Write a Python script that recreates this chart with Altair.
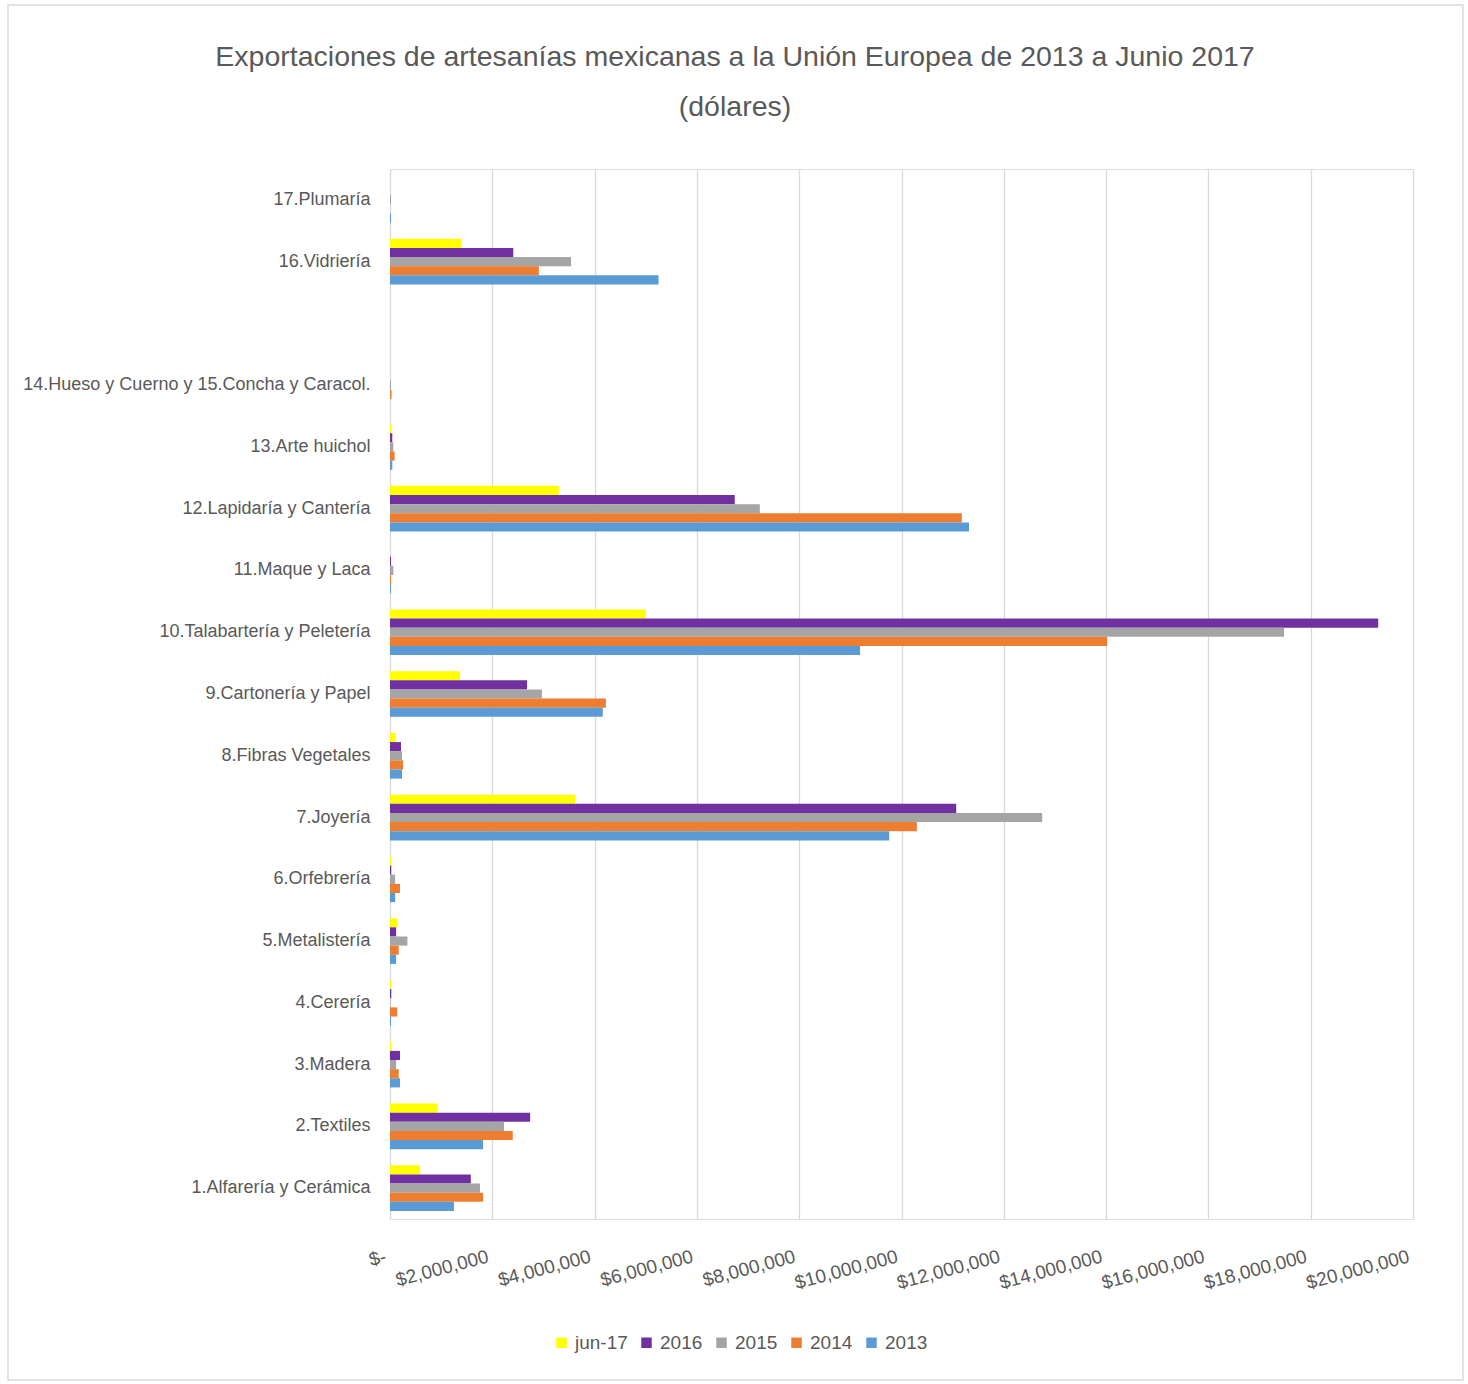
import altair as alt
import pandas as pd

FONT = "Liberation Sans"
TXT = "#595959"

categories = [
    "17.Plumaría", "16.Vidriería", " ",
    "14.Hueso y Cuerno y 15.Concha y Caracol.", "13.Arte huichol",
    "12.Lapidaría y Cantería", "11.Maque y Laca", "10.Talabartería y Peletería",
    "9.Cartonería y Papel", "8.Fibras Vegetales", "7.Joyería", "6.Orfebrería",
    "5.Metalistería", "4.Cerería", "3.Madera", "2.Textiles", "1.Alfarería y Cerámica",
]
series = ["jun-17", "2016", "2015", "2014", "2013"]
colors = ["#FFFF00", "#7030A0", "#A5A5A5", "#ED7D31", "#5B9BD5"]

# values in millions of dollars, same order as categories (None = empty slot)
v_jun17 = [0, 1.39, None, 0, 0.02, 3.30, 0, 5.00, 1.37, 0.11, 3.62, 0.02, 0.14, 0.02, 0.02, 0.92, 0.59]
v_2016 = [0, 2.41, None, 0, 0.045, 6.74, 0.02, 19.32, 2.68, 0.215, 11.07, 0.025, 0.12, 0.025, 0.195, 2.74, 1.58]
v_2015 = [0.02, 3.54, None, 0.02, 0.065, 7.23, 0.065, 17.48, 2.97, 0.235, 12.75, 0.10, 0.34, 0.01, 0.12, 2.23, 1.76]
v_2014 = [0, 2.91, None, 0.03, 0.09, 11.18, 0.02, 14.02, 4.22, 0.255, 10.30, 0.195, 0.17, 0.14, 0.17, 2.40, 1.82]
v_2013 = [0.02, 5.25, None, 0, 0.045, 11.32, 0.02, 9.19, 4.16, 0.235, 9.76, 0.10, 0.12, 0.02, 0.195, 1.82, 1.25]

tick_values = [0, 2e6, 4e6, 6e6, 8e6, 10e6, 12e6, 14e6, 16e6, 18e6, 20e6]

title_line1 = "Exportaciones de artesanías mexicanas a la Unión Europea de 2013 a Junio 2017"
title_line2 = "(dólares)"

rows = []
for s, vals in zip(series, [v_jun17, v_2016, v_2015, v_2014, v_2013]):
    for c, v in zip(categories, vals):
        if v is not None:
            rows.append({"cat": c, "serie": s, "valor": v * 1e6})
df = pd.DataFrame(rows)

bars = alt.Chart(df).mark_bar().encode(
    x=alt.X("valor:Q",
            scale=alt.Scale(domain=[0, 20e6], nice=False),
            axis=alt.Axis(values=tick_values, title=None, grid=True, gridColor="#d9d9d9",
                          gridWidth=1.3, domain=False, ticks=False, labelOverlap=False,
                          labelExpr="datum.value == 0 ? '$-' : '$' + format(datum.value, ',')",
                          labelAngle=345, labelAlign="right", labelBaseline="top",
                          labelPadding=28, labelOffset=-7, labelFontSize=19,
                          labelColor=TXT, labelFont=FONT)),
    y=alt.Y("cat:N", sort=categories,
            scale=alt.Scale(domain=categories, paddingInner=0.26, paddingOuter=0.13),
            axis=alt.Axis(title=None, domain=False, ticks=False, labelPadding=20,
                          labelFontSize=18, labelColor=TXT, labelFont=FONT,
                          labelLimit=500)),
    yOffset=alt.YOffset("serie:N", sort=series, scale=alt.Scale(domain=series)),
    color=alt.Color("serie:N", sort=series,
                    scale=alt.Scale(domain=series, range=colors),
                    legend=alt.Legend(title=None, orient="none", direction="horizontal",
                                      legendX=162, legendY=1164,
                                      symbolType="square", symbolSize=110,
                                      symbolStrokeWidth=0,
                                      labelFontSize=19, labelColor=TXT,
                                      labelFont=FONT, columnPadding=9, labelOffset=4)),
)

frame = alt.Chart(pd.DataFrame({"a": [0]})).mark_rect(
    fill=None, stroke="#d9d9d9", strokeWidth=1.5
).encode(
    x=alt.value(-382), x2=alt.value(1073), y=alt.value(-164), y2=alt.value(1211)
)

title_df = pd.DataFrame({"t": [title_line1, title_line2], "i": [0, 1]})
title_base = alt.Chart(title_df).mark_text(
    font=FONT, fontSize=28.5, color=TXT, align="center", baseline="middle"
)
title1 = title_base.transform_filter("datum.i == 0").encode(
    text="t:N", x=alt.value(345), y=alt.value(-112))
title2 = title_base.transform_filter("datum.i == 1").encode(
    text="t:N", x=alt.value(345), y=alt.value(-62))

chart = alt.layer(frame, title1, title2, bars).properties(
    width=1023, height=1050,
    autosize=alt.AutoSizeParams(type="none"),
    padding={"left": 390, "top": 169, "right": 55, "bottom": 165},
).configure_view(stroke=None).configure(background="white")

chart.save("out.html", embed_options={"renderer": "svg", "actions": False})
